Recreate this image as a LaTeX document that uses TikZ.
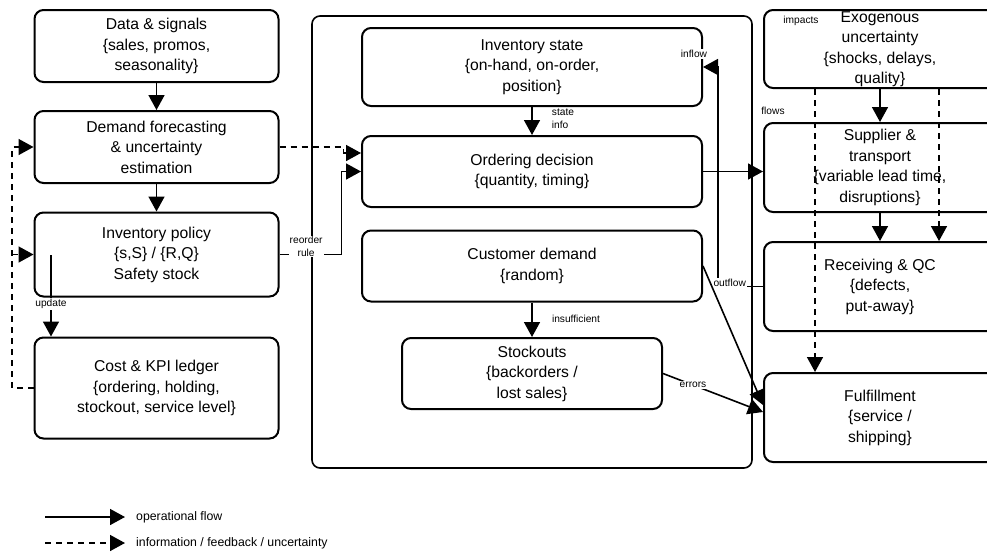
\documentclass[tikz,border=0pt]{standalone}
\usepackage{fontspec}
\setmainfont{Liberation Sans}
\usetikzlibrary{arrows.meta}
\usetikzlibrary{calc}

\begin{document}
\begin{tikzpicture}[x=1pt,y=-1pt,
    box/.style={draw, line width=2pt, rounded corners=9pt, inner sep=0pt, align=center, font=\fontsize{15.7}{20.5}\selectfont},
    flow/.style={line width=1.6pt, -{Triangle[length=15pt,width=16pt]}},
    info/.style={flow, dash pattern=on 6pt off 5pt},
    lbl/.style={font=\fontsize{10.2}{12.5}\selectfont, inner sep=1pt, fill=white, align=center},
    legend/.style={font=\fontsize{12.3}{14}\selectfont, anchor=west, inner sep=0pt}]
      \useasboundingbox (0,0) rectangle (987,554);
      \clip (0,0) rectangle (987,554);
      \fill[white] (0,0) rectangle (987,554);

      % Simulation frame
      \node[draw, line width=1.6pt, rounded corners=8pt, minimum width=440pt, minimum height=452pt] (sim) at (532,242) {};

      % Left column
      \node[box, minimum width=244pt, minimum height=72pt] (data) at (156.5,46) {Data \& signals\\\{sales, promos,\\seasonality\}};
      \node[box, minimum width=244pt, minimum height=72pt] (fc) at (156.5,147) {Demand forecasting\\\& uncertainty\\estimation};
      \node[box, minimum width=244pt, minimum height=84pt] (pol) at (156.5,254.5) {Inventory policy\\\{s,S\} / \{R,Q\}\\Safety stock};
      \node[box, minimum width=244pt, minimum height=101pt] (ledger) at (156.5,388) {Cost \& KPI ledger\\\{ordering, holding,\\stockout, service level\}};

      % Middle
      \node[box, minimum width=340pt, minimum height=78pt] (inv) at (532,67) {Inventory state\\\{on-hand, on-order,\\position\}};
      \node[box, minimum width=340pt, minimum height=71pt] (ord) at (532,171.5) {Ordering decision\\\{quantity, timing\}};
      \node[box, minimum width=340pt, minimum height=71pt] (cust) at (532,266) {Customer demand\\\{random\}};
      \node[box, minimum width=260pt, minimum height=71pt] (stock) at (532,373.5) {Stockouts\\\{backorders /\\lost sales\}};

      % Right column
      \node[box, minimum width=232pt, minimum height=78pt] (exo) at (880,49) {Exogenous\\uncertainty\\\{shocks, delays,\\quality\}};
      \node[box, minimum width=232pt, minimum height=89pt] (sup) at (880,167.5) {Supplier \&\\transport\\\{variable lead time,\\disruptions\}};
      \node[box, minimum width=232pt, minimum height=89pt] (rec) at (880,286.5) {Receiving \& QC\\\{defects,\\put-away\}};
      \node[box, minimum width=232pt, minimum height=89pt] (ful) at (880,417.5) {Fulfillment\\\{service /\\shipping\}};

      % Left connectors
      \draw[flow] (data) -- (fc);
      \draw[flow] (fc) -- (pol);
      \coordinate (upd) at (51,255);
      \draw[flow] (upd) -- node[lbl, pos=0.6] (updl) {update} (upd |- ledger.north);

      % Feedback
      \coordinate (fbx) at (12,0);
      \draw[info] (ledger.west) -| (fbx |- fc.west) -- (fc.west);
      \draw[info] (fbx |- pol.west) -- (pol.west);

      % Into ordering decision
      \coordinate (ordin) at ($(ord.west)+(0,-18.5)$);
      \draw[info] (fc.east) -- ++(64,0) |- (ordin);
      \draw[flow] (pol.east) -- node[lbl, pos=0.43, yshift=8pt] (rrl) {reorder\\rule} ++(62,0) |- (ord.west);
      \draw[flow] (inv) -- (ord);
      \node[lbl, align=left] (stl) at (563,119) {state\\info};

      % Out of ordering decision
      \draw[flow] (ord.east) -- (ord.east -| sup.west);
      \coordinate (ofx) at (718,0);
      \draw[flow] (rec.west) -- node[lbl, pos=0.74, yshift=4pt] (ofl) {outflow} (ofx |- rec.west) |- (inv.east);
      \node[lbl] (infl) at (694,54) {inflow};

      % Demand and stockouts
      \draw[flow] (cust) -- (stock);
      \node[lbl] (insl) at (576,319) {insufficient};
      \draw[flow] (cust.east) -- ($(ful.west)+(0,-12.5)$);
      \draw[flow] (stock.east) -- node[lbl, pos=0.3] (errl) {errors} ($(ful.west)+(0,-5.5)$);

      % Right connectors
      \draw[flow] (exo) -- (sup);
      \draw[flow] (sup) -- (rec);
      \coordinate (dxa) at (815,0);
      \coordinate (dxb) at (939,0);
      \draw[info] (dxa |- exo.south) -- (dxa |- ful.north);
      \draw[info] (dxb |- exo.south) -- (dxb |- rec.north);
      \node[lbl] (impl) at (801,21) {impacts};
      \node[lbl] (flwl) at (773,111) {flows};

      % Legend
      \foreach \y/\st/\txt in {517/flow/{operational flow}, 543/info/{information / feedback / uncertainty}}
      {
        \coordinate (lgs\y) at (45,\y);
        \node[legend] (lgt\y) at (136,\y) {\txt};
        \draw[\st] (lgs\y) -- ($(lgt\y.west)+(-11,0)$);
      }
\end{tikzpicture}
\end{document}
